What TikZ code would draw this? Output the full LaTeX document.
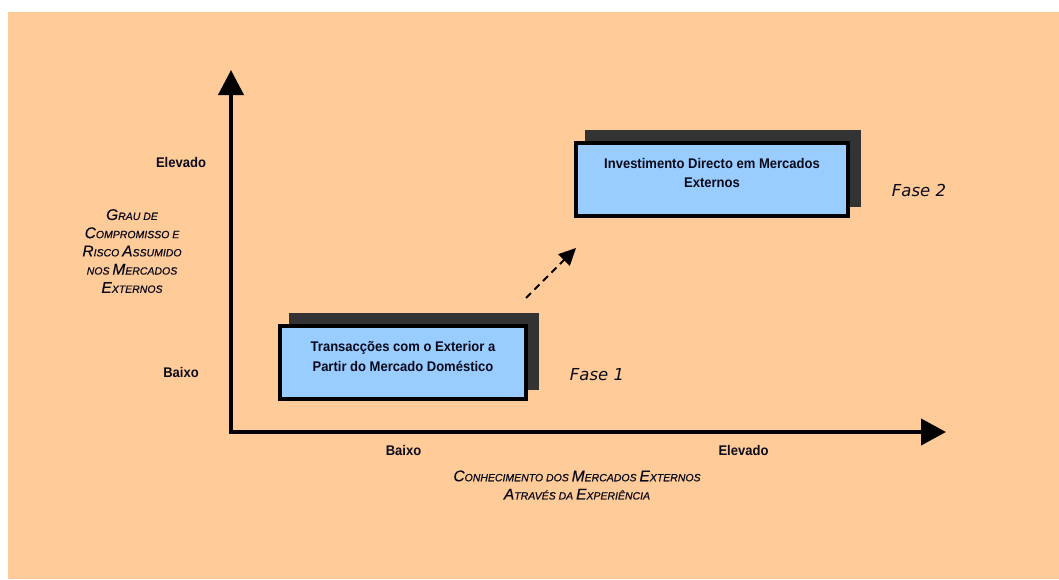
\documentclass[tikz,border=0pt]{standalone}
\usepackage{fontspec}
\usetikzlibrary{arrows.meta,shadows,calc}
\newfontfamily\titlef[FakeBold=0.6]{Liberation Sans}
\newfontfamily\narrowf[FakeStretch=0.93]{Liberation Sans}
\newfontfamily\fasef{DejaVu Sans}
\definecolor{peach}{HTML}{FFCC99}
\definecolor{boxblue}{HTML}{99CCFF}
\definecolor{shd}{HTML}{333333}
\definecolor{ink}{HTML}{0A0A1A}
% capital letter in the faked small-caps titles
\newcommand\scbig[1]{{\fontsize{15.5}{18}\selectfont #1}}
\tikzset{
  axis/.style={line width=4pt, draw=black},
  phasebox/.style={draw=black, fill=boxblue, line width=4pt, inner sep=0pt,
    minimum height=73pt,
    general shadow={fill=shd, draw=shd, shadow xshift=11pt, shadow yshift=11pt}},
  boxtext/.style={font=\narrowf\bfseries\fontsize{14}{19.5}\selectfont, text=ink, align=center, inner sep=0pt},
  ticklabel/.style={font=\narrowf\bfseries\fontsize{14}{16}\selectfont, text=ink, inner sep=0pt},
  axistitle/.style={font=\titlef\itshape\fontsize{10.5}{18.2}\selectfont, text=ink, align=center, inner sep=0pt},
  phase/.style={font=\fasef\itshape\fontsize{16.5}{20}\selectfont, text=ink, inner sep=0pt},
}
\begin{document}
\begin{tikzpicture}[x=1pt, y=-1pt]
  \useasboundingbox (0,0) rectangle (1059,579);
  \fill[white] (0,0) rectangle (1059,579);
  \fill[peach] (8,12) rectangle (1059,579);

  % axes
  \coordinate (ytop) at (231,70);
  \coordinate (O) at (231,432);
  \coordinate (xend) at (946,432);
  \draw[axis, line join=miter,
        {Triangle[length=25pt,width=25pt]}-{Triangle[length=25pt,width=26pt]}]
    (ytop) -- (O) -- (xend);

  % axis tick labels
  \node[ticklabel] (yhigh) at (181,162) {Elevado};
  \node[ticklabel] (ylow) at (181,372) {Baixo};
  \node[ticklabel] (xlow) at (403.5,450) {Baixo};
  \node[ticklabel] (xhigh) at (743.5,450) {Elevado};

  % axis titles
  \node[axistitle] (ytitle) at (132,251)
    {\scbig{G}RAU DE\\ \scbig{C}OMPROMISSO E\\ \scbig{R}ISCO \scbig{A}SSUMIDO\\ NOS \scbig{M}ERCADOS\\ \scbig{E}XTERNOS};
  \node[axistitle] (xtitle) at (577,485)
    {\scbig{C}ONHECIMENTO DOS \scbig{M}ERCADOS \scbig{E}XTERNOS\\ \scbig{A}TRAVÉS DA \scbig{E}XPERIÊNCIA};

  % phase boxes
  \node[phasebox, minimum width=246pt] (b1) at (403,362.5) {};
  \node[boxtext] (t1) at ($(b1)+(0,-6)$) {Transacções com o Exterior a\\Partir do Mercado Doméstico};
  \node[phasebox, minimum width=272pt] (b2) at (712,179.5) {};
  \node[boxtext] (t2) at ($(b2)+(0,-6.5)$) {Investimento Directo em Mercados\\Externos};

  \node[phase] (f1) at (597,375) {Fase 1};
  \node[phase] (f2) at (919,190) {Fase 2};

  % transition between the phases
  \coordinate (d1) at ($(b1.north east)+(-2,-26)$);
  \coordinate (d2) at ($(b2.south west)+(2,30)$);
  \draw[line width=2pt, dash pattern=on 7pt off 5pt,
        -{Triangle[length=17pt,width=16pt]}] (d1) -- (d2);
\end{tikzpicture}
\end{document}
